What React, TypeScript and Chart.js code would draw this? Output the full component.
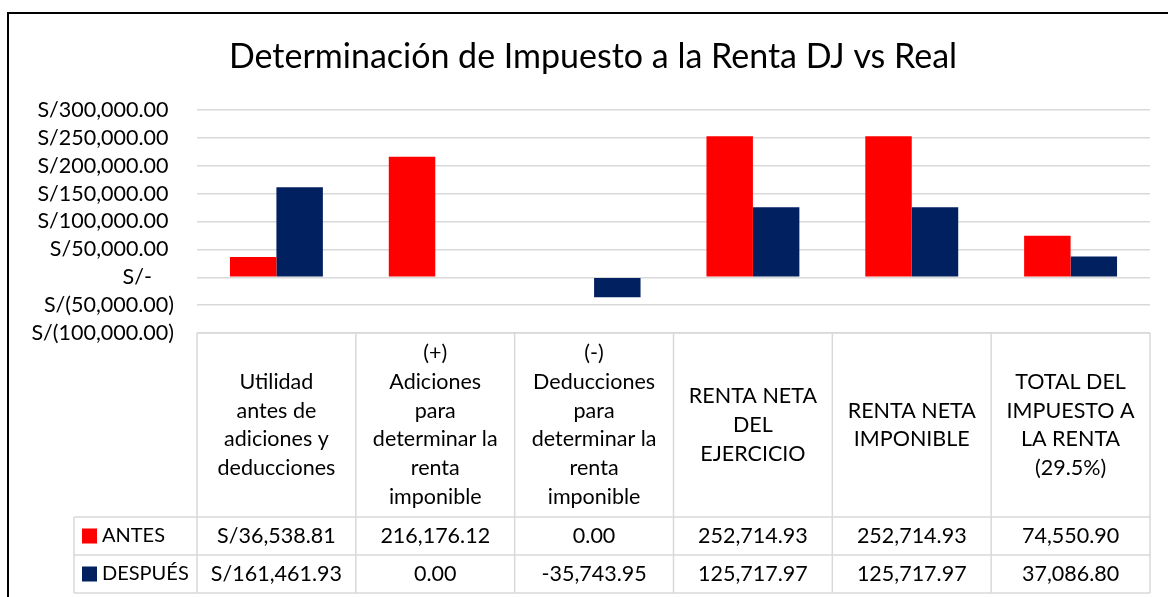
import React, { useEffect, useRef } from 'react';
import { Chart, registerables } from 'chart.js';

Chart.register(...registerables);

const chartTitle = 'Determinación de Impuesto a la Renta DJ vs Real';
const categories: string[][] = [
  ['Utilidad', 'antes de', 'adiciones y', 'deducciones'],
  ['(+)', 'Adiciones', 'para', 'determinar la', 'renta', 'imponible'],
  ['(-)', 'Deducciones', 'para', 'determinar la', 'renta', 'imponible'],
  ['RENTA NETA', 'DEL', 'EJERCICIO'],
  ['RENTA NETA', 'IMPONIBLE'],
  ['TOTAL DEL', 'IMPUESTO A', 'LA RENTA', '(29.5%)'],
];
const seriesNames = ['ANTES', 'DESPUÉS'];
const antes = [36538.81, 216176.12, 0.0, 252714.93, 252714.93, 74550.9];
const despues = [161461.93, 0.0, -35743.95, 125717.97, 125717.97, 37086.8];
const currencyColumns = [true, false, false, false, false, false];
const seriesColors = ['#FF0000', '#002060'];
const yMin = -100000;
const yMax = 300000;
const yStep = 50000;

const FONT = 'Lato, "Noto Sans", sans-serif';
const GRID = '#d9d9d9';

const fmt = (v: number) =>
  v.toLocaleString('en-US', { minimumFractionDigits: 2, maximumFractionDigits: 2 });

const tickLabel = (v: number) => {
  if (v === 0) return 'S/-    ';
  if (v < 0) return `S/(${fmt(-v)})`;
  return `S/${fmt(v)} `;
};

const tablePlugin = {
  id: 'excelTable',
  beforeDraw(chart: any) {
    const { ctx } = chart;
    ctx.save();
    ctx.fillStyle = '#ffffff';
    ctx.fillRect(0, 0, chart.width, chart.height);
    ctx.restore();
  },
  afterDraw(chart: any) {
    const { ctx, chartArea } = chart;
    const { left, right, bottom } = chartArea;
    const n = categories.length;
    const w = (right - left) / n;
    const headerBottom = bottom + 184;
    const rowH = 38;
    const legendLeft = 74;
    ctx.save();

    // title
    ctx.fillStyle = '#000';
    ctx.font = `34px ${FONT}`;
    ctx.textAlign = 'center';
    ctx.textBaseline = 'middle';
    ctx.fillText(chartTitle, 593, 57);

    // lines
    ctx.strokeStyle = GRID;
    ctx.lineWidth = 1.5;
    ctx.beginPath();
    for (let i = 0; i <= n; i++) {
      const x = left + i * w;
      ctx.moveTo(x, bottom);
      ctx.lineTo(x, headerBottom + 2 * rowH);
    }
    ctx.moveTo(left, bottom);
    ctx.lineTo(right, bottom);
    for (let r = 0; r <= 2; r++) {
      const y = headerBottom + r * rowH;
      ctx.moveTo(legendLeft, y);
      ctx.lineTo(right, y);
    }
    ctx.moveTo(legendLeft, headerBottom);
    ctx.lineTo(legendLeft, headerBottom + 2 * rowH);
    ctx.stroke();

    // header text
    ctx.fillStyle = '#000';
    ctx.font = `21.5px ${FONT}`;
    ctx.textAlign = 'center';
    ctx.textBaseline = 'middle';
    const lh = 28.8;
    const hc = (bottom + headerBottom) / 2;
    categories.forEach((lines, i) => {
      const cx = left + (i + 0.5) * w;
      const y0 = hc - ((lines.length - 1) * lh) / 2;
      lines.forEach((t, k) => ctx.fillText(t, cx, y0 + k * lh));
    });

    // rows
    const rows = [antes, despues];
    rows.forEach((vals, r) => {
      const cy = headerBottom + r * rowH + rowH / 2;
      ctx.fillStyle = seriesColors[r];
      ctx.fillRect(82, cy - 7.5, 15, 15);
      ctx.fillStyle = '#000';
      ctx.textAlign = 'left';
      ctx.font = `20px ${FONT}`;
      ctx.fillText(seriesNames[r], 102, cy);
      ctx.font = `21.5px ${FONT}`;
      ctx.textAlign = 'center';
      vals.forEach((v, i) => {
        const cx = left + (i + 0.5) * w;
        const s = (currencyColumns[i] ? 'S/' : '') + fmt(v);
        ctx.fillText(s, cx, cy);
      });
    });
    ctx.restore();
  },
};

export default function App() {
  const ref = useRef<HTMLCanvasElement | null>(null);
  useEffect(() => {
    if (!ref.current) return;
    const chart = new Chart(ref.current, {
      type: 'bar',
      data: {
        labels: categories.map((c) => c.join(' ')),
        datasets: [
          { label: seriesNames[0], data: antes, backgroundColor: seriesColors[0] },
          { label: seriesNames[1], data: despues, backgroundColor: seriesColors[1] },
        ],
      },
      options: {
        responsive: false,
        animation: false,
        maintainAspectRatio: false,
        layout: { padding: { left: 0, top: 110, right: 18, bottom: 264 } },
        datasets: { bar: { categoryPercentage: 0.585, barPercentage: 1 } },
        plugins: {
          legend: { display: false },
          title: { display: false },
          tooltip: { enabled: false },
        },
        scales: {
          x: { display: false },
          y: {
            min: yMin,
            max: yMax,
            afterFit: (s: any) => {
              s.width = 197;
            },
            border: { display: false },
            grid: { color: GRID, lineWidth: 1.5, drawTicks: false },
            ticks: {
              stepSize: yStep,
              autoSkip: false,
              padding: 23,
              color: '#000',
              font: { family: FONT, size: 21.5 },
              callback: (v: any) => tickLabel(Number(v)),
            },
          },
        },
      },
      plugins: [tablePlugin],
    });
    return () => chart.destroy();
  }, []);
  return (
    <div style={{ position: 'fixed', left: 0, top: 0, width: 1168, height: 597, overflow: 'hidden', background: '#fff' }}>
      <canvas ref={ref} width={1168} height={597} style={{ display: 'block' }} />
      <div
        style={{
          position: 'absolute',
          left: 7,
          top: 12,
          width: 1300,
          height: 800,
          border: '2px solid #000',
          pointerEvents: 'none',
        }}
      />
    </div>
  );
}
